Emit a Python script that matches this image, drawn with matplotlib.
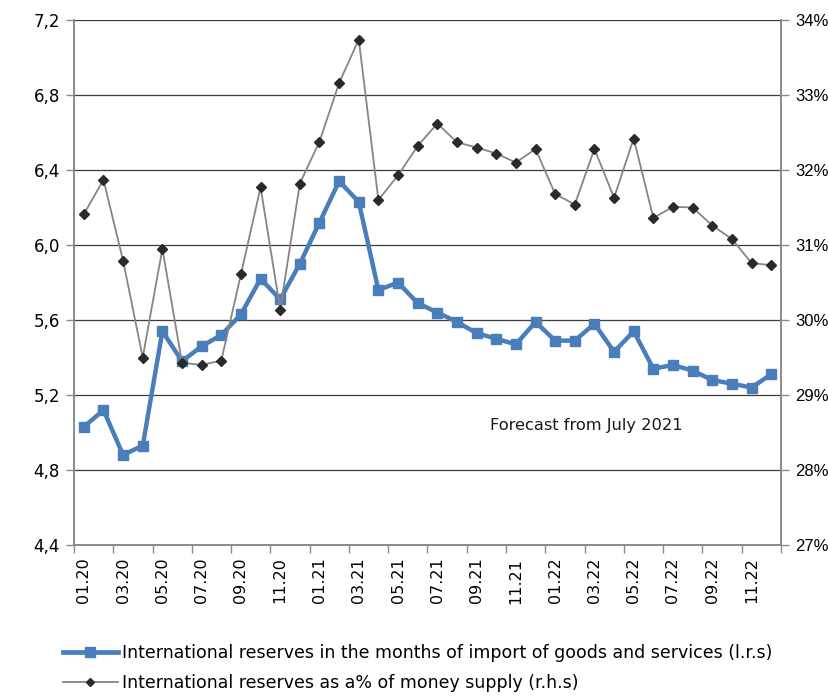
import matplotlib.pyplot as plt
from matplotlib.lines import Line2D
from matplotlib.ticker import FuncFormatter
import numpy as np

months = ['01.20', '02.20', '03.20', '04.20', '05.20', '06.20', '07.20', '08.20',
          '09.20', '10.20', '11.20', '12.20', '01.21', '02.21', '03.21', '04.21',
          '05.21', '06.21', '07.21', '08.21', '09.21', '10.21', '11.21', '12.21',
          '01.22', '02.22', '03.22', '04.22', '05.22', '06.22', '07.22', '08.22',
          '09.22', '10.22', '11.22', '12.22']

# months of import cover (left axis)
import_months = [5.03, 5.12, 4.88, 4.93, 5.54, 5.38, 5.46, 5.52, 5.63, 5.82, 5.71, 5.90,
                 6.12, 6.34, 6.23, 5.76, 5.80, 5.69, 5.64, 5.59, 5.53, 5.50, 5.47, 5.59,
                 5.49, 5.49, 5.58, 5.43, 5.54, 5.34, 5.36, 5.33, 5.28, 5.26, 5.24, 5.31]

# share of money supply, % (right axis)
money_share = [31.41, 31.87, 30.79, 29.50, 30.95, 29.43, 29.40, 29.46, 30.61, 31.77,
               30.14, 31.82, 32.38, 33.16, 33.74, 31.60, 31.93, 32.32, 32.62, 32.37,
               32.30, 32.22, 32.10, 32.28, 31.68, 31.54, 32.28, 31.63, 32.42, 31.36,
               31.51, 31.50, 31.26, 31.08, 30.76, 30.73]

label_left = 'International reserves in the months of import of goods and services (l.r.s)'
label_right = 'International reserves as a% of money supply (r.h.s)'

blue = '#4a7ebb'
gray = '#858585'
grid_c = '#3c3c3c'
spine_c = '#8a8a8a'

x = np.arange(len(months))

fig = plt.figure(figsize=(8.29, 6.96), dpi=100)
ax = fig.add_axes([74/829, 1-545/696, (781-74)/829, (545-20)/696])
ax2 = ax.twinx()

ax.plot(x, import_months, color=blue, lw=3.2, marker='s', ms=7, mec=blue, mfc=blue, zorder=3)
ax2.plot(x, money_share, color=gray, lw=1.3, marker='D', ms=5, mec='#2a2a2a', mfc='#2a2a2a', zorder=3)

ax.set_xlim(-0.5, len(months) - 0.5)
ax.set_ylim(4.4, 7.2)
ax2.set_ylim(27, 34)
ax.set_yticks(np.arange(4.4, 7.21, 0.4))
ax2.set_yticks(np.arange(27, 34.1, 1))
ax.yaxis.set_major_formatter(FuncFormatter(lambda v, p: ('%.1f' % v).replace('.', ',')))
ax2.yaxis.set_major_formatter(FuncFormatter(lambda v, p: '%d%%' % round(v)))

ax.grid(axis='y', color=grid_c, lw=0.9)
ax.set_axisbelow(True)

# tick marks sit between categories, labels under every second month
ax.set_xticks(np.arange(-0.5, len(months), 2))
ax.set_xticklabels([])
ax.set_xticks(x[::2], minor=True)
ax.set_xticklabels(months[::2], minor=True, rotation=90, fontsize=11.5, family='DejaVu Sans')
ax.tick_params(axis='x', which='major', length=6, color=spine_c, width=1)
ax.tick_params(axis='x', which='minor', length=0, pad=9)

ax.tick_params(axis='y', length=6, color=spine_c, width=1, labelsize=12, pad=4)
ax2.tick_params(axis='y', length=6, color=spine_c, width=1, labelsize=12, pad=4)
for lab in ax2.get_yticklabels():
    lab.set_family('Liberation Sans')

for a in (ax, ax2):
    a.spines['top'].set_visible(False)
    for s in ('left', 'right', 'bottom'):
        a.spines[s].set_color(spine_c)
        a.spines[s].set_linewidth(1.2)

ax.text(25.6, 5.035, 'Forecast from July 2021', fontsize=11.7, ha='center', va='center',
        family='DejaVu Sans', color='#1a1a1a')

handles = [
    Line2D([], [], color=blue, lw=3.4, marker='s', ms=6.5, mec=blue, mfc=blue),
    Line2D([], [], color=gray, lw=1.3, marker='D', ms=4.5, mec='#2a2a2a', mfc='#2a2a2a'),
]
fig.legend(handles, [label_left, label_right], loc='upper left',
           bbox_to_anchor=(63/829, 1-644/696), frameon=False, handlelength=3.15,
           handletextpad=0.23, labelspacing=0.72, borderaxespad=0, borderpad=0,
           prop={'family': 'DejaVu Sans', 'size': 12.5})

plt.savefig('out.png', dpi=100)
